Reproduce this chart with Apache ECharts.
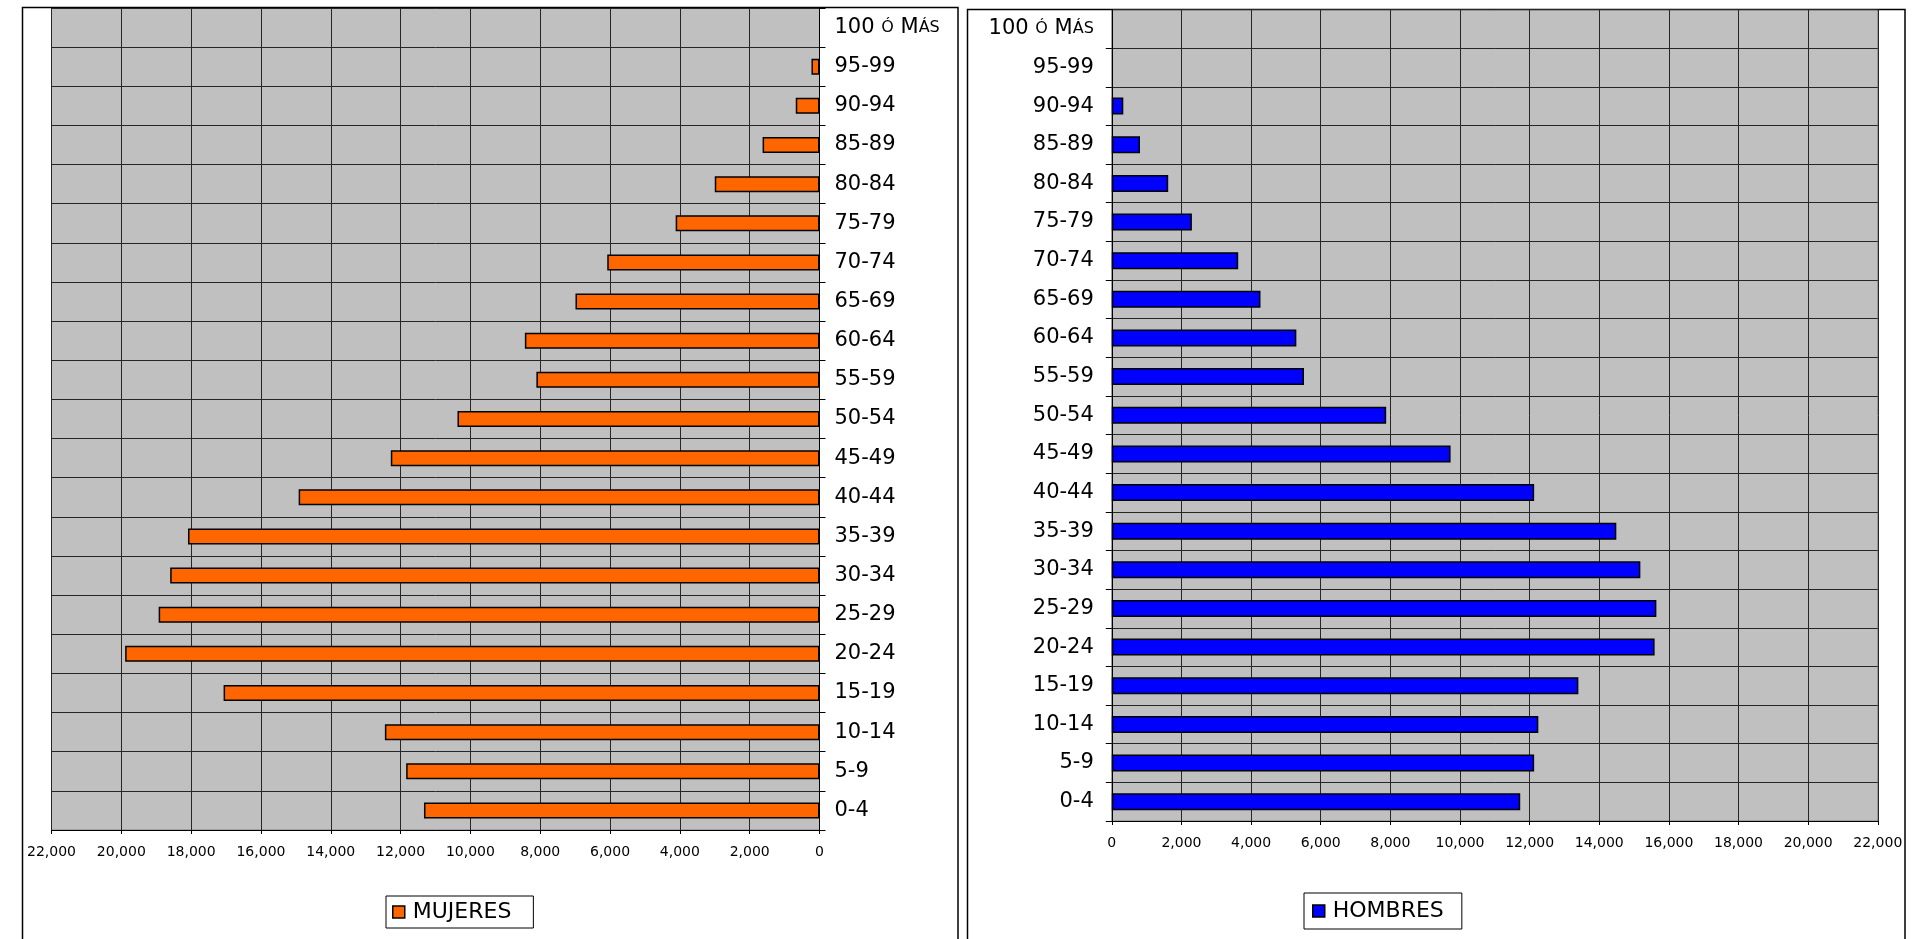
<!DOCTYPE html>
<html>
<head>
<meta charset="utf-8">
<script src="https://cdn.jsdelivr.net/npm/echarts@6/dist/echarts.min.js"></script>
<style>
html,body{margin:0;padding:0;background:#fff;}
#c{width:1918px;height:939px;}
</style>
</head>
<body>
<div id="c"></div>
<script>
// Age groups, bottom to top
var categories = ['0-4','5-9','10-14','15-19','20-24','25-29','30-34','35-39','40-44','45-49','50-54','55-59','60-64','65-69','70-74','75-79','80-84','85-89','90-94','95-99','100 ó Más'];
var mujeres = [11330, 11840, 12450, 17070, 19890, 18930, 18600, 18090, 14920, 12280, 10370, 8110, 8440, 6990, 6080, 4120, 3000, 1630, 680, 230, 0];
var hombres = [11730, 12130, 12250, 13400, 15590, 15640, 15180, 14490, 12130, 9730, 7880, 5520, 5300, 4270, 3630, 2300, 1620, 810, 330, 0, 0];
var valueTicks = [0, 2000, 4000, 6000, 8000, 10000, 12000, 14000, 16000, 18000, 20000, 22000];

var FONT = 'DejaVu Sans';
function smallCaps(s) {
  var out = '', buf = '';
  for (var i = 0; i < s.length; i++) {
    var ch = s[i];
    if (ch !== ch.toUpperCase()) { buf += ch.toUpperCase(); }
    else { if (buf) { out += '{s|' + buf + '}'; buf = ''; } out += ch; }
  }
  if (buf) out += '{s|' + buf + '}';
  return out;
}
function fmtNum(v) { return String(v).replace(/\B(?=(\d{3})+(?!\d))/g, ','); }

var vMin = valueTicks[0], vMax = valueTicks[valueTicks.length - 1], vInt = valueTicks[1] - valueTicks[0];
var gridLineColor = '#262626';

function valueAxis(gridIndex, inverse) {
  return {
    type: 'value', gridIndex: gridIndex, inverse: inverse,
    min: vMin, max: vMax, interval: vInt,
    axisLine: { show: true, lineStyle: { color: '#000', width: 1 } },
    axisTick: { show: true, length: 4, lineStyle: { color: '#000' } },
    splitLine: { show: true, lineStyle: { color: gridLineColor, width: 1 } },
    axisLabel: { color: '#000', fontFamily: FONT, fontSize: 14, margin: 15, formatter: fmtNum }
  };
}
function catAxis(gridIndex, position, margin) {
  return {
    type: 'category', gridIndex: gridIndex, position: position, data: categories,
    axisLine: { show: true, onZero: false, lineStyle: { color: '#000', width: 1 } },
    axisTick: { show: true, length: 6, lineStyle: { color: '#000' } },
    splitLine: { show: true, lineStyle: { color: gridLineColor, width: 1 } },
    axisLabel: {
      color: '#000', fontFamily: FONT, fontSize: 21, margin: margin, interval: 0,
      formatter: function (v) { return smallCaps(v); },
      rich: { s: { fontFamily: FONT, fontSize: 16, color: '#000' } }
    }
  };
}
function barData(arr) {
  return arr.map(function (v) { return v === 0 ? { value: 0, itemStyle: { borderWidth: 0 } } : v; });
}

var chart = echarts.init(document.getElementById('c'));
chart.setOption({
  animation: false,
  backgroundColor: '#fff',
  graphic: [
    { type: 'rect', z: 0, shape: { x: 22.5, y: 7.5, width: 935.5, height: 1000 }, style: { fill: 'none', stroke: '#000', lineWidth: 1.5 } },
    { type: 'rect', z: 0, shape: { x: 967.5, y: 9.5, width: 937.5, height: 1000 }, style: { fill: 'none', stroke: '#000', lineWidth: 1.5 } }
  ],
  grid: [
    { left: 51.5, width: 768, top: 8, height: 822, show: true, backgroundColor: '#C0C0C0', borderColor: '#808080', borderWidth: 1 },
    { left: 1111.8, width: 766, top: 9.5, height: 811.5, show: true, backgroundColor: '#C0C0C0', borderColor: '#808080', borderWidth: 1 }
  ],
  xAxis: [ valueAxis(0, true), valueAxis(1, false) ],
  yAxis: [ catAxis(0, 'right', 15), catAxis(1, 'left', 18) ],
  legend: [
    {
      data: ['MUJERES'], left: 386, top: 896, orient: 'horizontal',
      backgroundColor: '#fff', borderColor: '#000', borderWidth: 1,
      padding: [5, 22, 5, 6], itemWidth: 12, itemHeight: 12, itemGap: 8, icon: 'rect',
      itemStyle: { borderColor: '#000', borderWidth: 1.5 },
      textStyle: { color: '#000', fontFamily: FONT, fontSize: 22, lineHeight: 22, padding: [0, 0, 0, 3] }
    },
    {
      data: ['HOMBRES'], left: 1304, top: 893, orient: 'horizontal',
      backgroundColor: '#fff', borderColor: '#000', borderWidth: 1,
      padding: [7, 18, 7, 8], itemWidth: 12, itemHeight: 12, itemGap: 8, icon: 'rect',
      itemStyle: { borderColor: '#000', borderWidth: 1.5 },
      textStyle: { color: '#000', fontFamily: FONT, fontSize: 22, lineHeight: 22, padding: [0, 0, 0, 3] }
    }
  ],
  series: [
    {
      name: 'MUJERES', type: 'bar', xAxisIndex: 0, yAxisIndex: 0, data: barData(mujeres), barWidth: 16,
      itemStyle: { color: '#FF6600', borderColor: '#000', borderWidth: 1.5 }
    },
    {
      name: 'HOMBRES', type: 'bar', xAxisIndex: 1, yAxisIndex: 1, data: barData(hombres), barWidth: 17,
      itemStyle: { color: '#0000FF', borderColor: '#000', borderWidth: 1.5 }
    }
  ]
});
</script>
</body>
</html>
